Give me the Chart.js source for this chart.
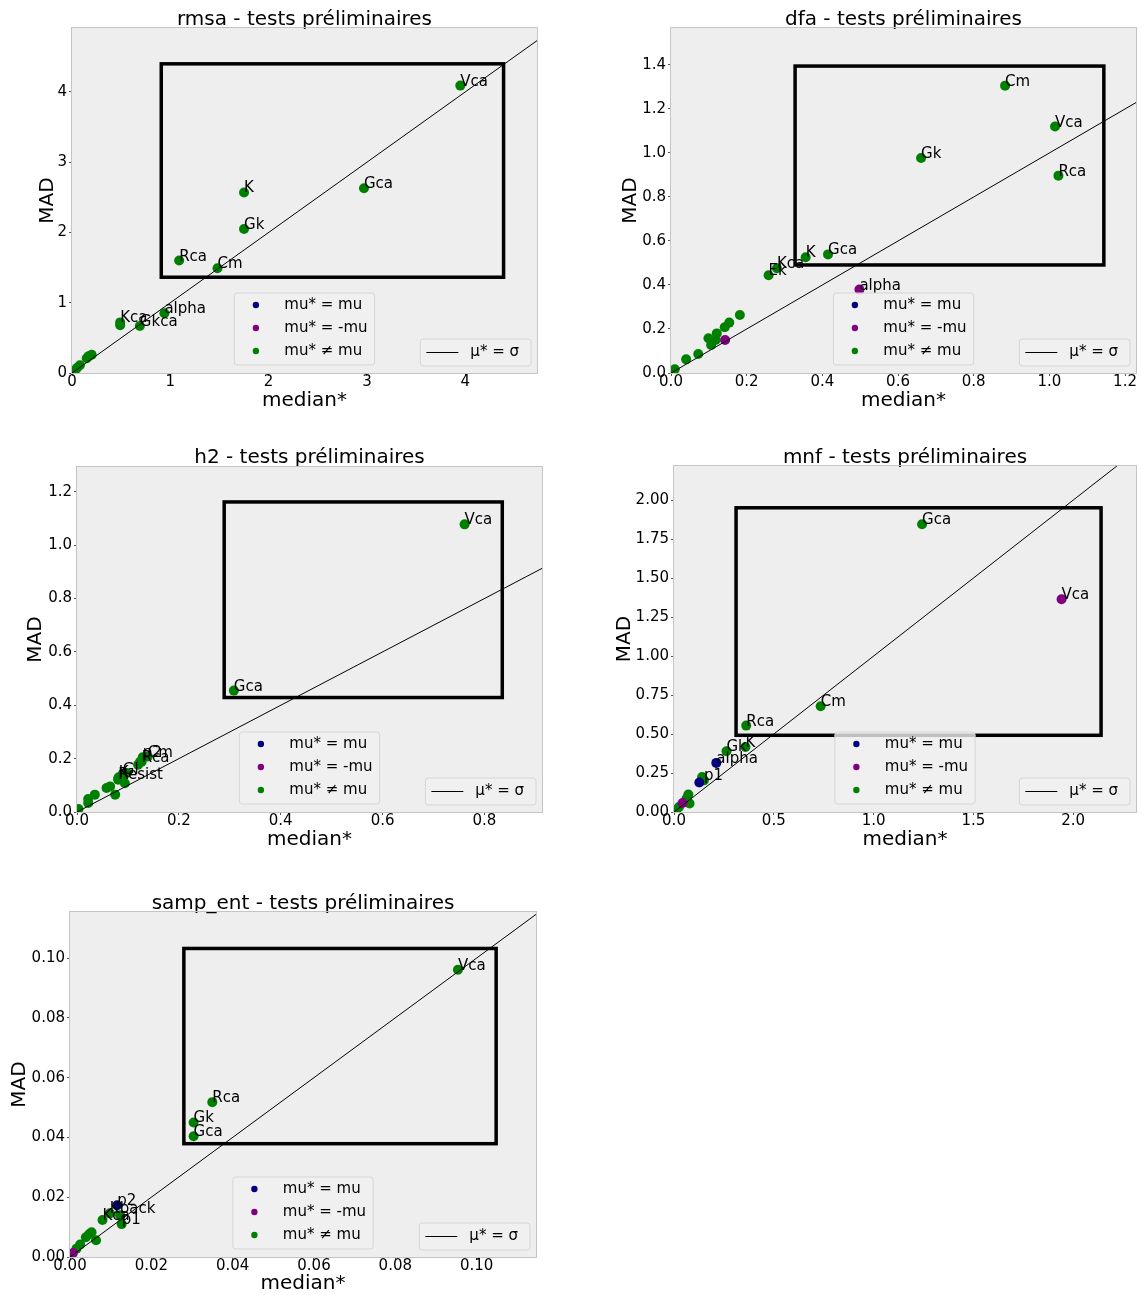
<!DOCTYPE html>
<html>
<head>
<meta charset="utf-8">
<script src="https://cdn.jsdelivr.net/npm/chart.js@4.4.1/dist/chart.umd.min.js"></script>
<style>
  body { margin: 0; background: #fff; }
  #page { position: relative; width: 1141px; height: 1295px; overflow: hidden; }
</style>
</head>
<body>
<div id="page"></div>
<script>
const FONT = 'DejaVu Sans';

// sign codes: 'eq' -> mu* = mu, 'opp' -> mu* = -mu, 'diff' -> mu* != mu

// rmsa
const rmsaNames  = ['Vca', 'Gca', 'K', 'Gk', 'Rca', 'Cm', 'alpha', 'Gkca', 'Kca', '', '', '', '', '', '', '', ''];
const rmsaMedian = [3.95, 2.97, 1.75, 1.75, 1.09, 1.48, 0.94, 0.69, 0.49, 0.49, 0.20, 0.17, 0.15, 0.08, 0.05, 0.03, 0.01];
const rmsaMad    = [4.09, 2.63, 2.57, 2.05, 1.60, 1.49, 0.85, 0.67, 0.72, 0.68, 0.26, 0.24, 0.21, 0.11, 0.07, 0.04, 0.01];
const rmsaSign   = ['diff', 'diff', 'diff', 'diff', 'diff', 'diff', 'diff', 'diff', 'diff', 'diff', 'diff', 'diff', 'diff', 'diff', 'diff', 'diff', 'diff'];
const rmsaBox    = [0.908, 1.363, 4.39, 4.40];
const rmsaXTicks = ['0', '1', '2', '3', '4'];
const rmsaYTicks = ['0', '1', '2', '3', '4'];
const rmsaXMax = 4.73, rmsaYMax = 4.91;

// dfa
const dfaNames  = ['Cm', 'Vca', 'Gk', 'Rca', 'Gca', 'K', 'Kca', 'Ek', 'alpha', '', '', '', '', '', '', '', '', '', '', ''];
const dfaMedian = [0.883, 1.015, 0.661, 1.024, 0.415, 0.356, 0.280, 0.258, 0.498, 0.143, 0.182, 0.154, 0.142, 0.121, 0.099, 0.106, 0.118, 0.072, 0.040, 0.010];
const dfaMad    = [1.306, 1.120, 0.977, 0.897, 0.539, 0.526, 0.476, 0.444, 0.379, 0.150, 0.264, 0.229, 0.208, 0.180, 0.158, 0.127, 0.150, 0.086, 0.062, 0.017];
const dfaSign   = ['diff', 'diff', 'diff', 'diff', 'diff', 'diff', 'diff', 'diff', 'opp', 'opp', 'diff', 'diff', 'diff', 'diff', 'diff', 'diff', 'diff', 'diff', 'diff', 'diff'];
const dfaBox    = [0.328, 0.491, 1.144, 1.395];
const dfaXTicks = ['0.0', '0.2', '0.4', '0.6', '0.8', '1.0', '1.2'];
const dfaYTicks = ['0.0', '0.2', '0.4', '0.6', '0.8', '1.0', '1.2', '1.4'];
const dfaXMax = 1.229, dfaYMax = 1.568;

// h2
const h2Names  = ['Vca', 'Gca', 'p2', 'Cm', 'Rca', 'Gl', 'K', 'Resist', '', '', '', '', '', '', '', '', '', '', '', '', ''];
const h2Median = [0.761, 0.308, 0.129, 0.139, 0.127, 0.090, 0.082, 0.081, 0.003, 0.022, 0.022, 0.035, 0.058, 0.065, 0.075, 0.081, 0.088, 0.094, 0.098, 0.120, 0.124];
const h2Mad    = [1.078, 0.455, 0.205, 0.208, 0.188, 0.143, 0.130, 0.125, 0.011, 0.049, 0.034, 0.065, 0.090, 0.096, 0.065, 0.121, 0.127, 0.108, 0.146, 0.177, 0.188];
const h2Sign   = h2Names.map(() => 'diff');
const h2Box    = [0.289, 0.429, 0.835, 1.162];
const h2XTicks = ['0.0', '0.2', '0.4', '0.6', '0.8'];
const h2YTicks = ['0.0', '0.2', '0.4', '0.6', '0.8', '1.0', '1.2'];
const h2XMax = 0.913, h2YMax = 1.293;

// mnf
const mnfNames  = ['Gca', 'Vca', 'Cm', 'Rca', 'K', 'Gk', 'alpha', '', '', 'p1', '', '', '', '', '', ''];
const mnfMedian = [1.243, 1.942, 0.735, 0.362, 0.358, 0.263, 0.212, 0.127, 0.141, 0.150, 0.072, 0.063, 0.078, 0.043, 0.025, 0.012];
const mnfMad    = [1.845, 1.365, 0.678, 0.554, 0.417, 0.390, 0.315, 0.189, 0.225, 0.203, 0.112, 0.086, 0.054, 0.058, 0.032, 0.015];
const mnfSign   = ['diff', 'opp', 'diff', 'diff', 'diff', 'diff', 'eq', 'eq', 'diff', 'diff', 'diff', 'diff', 'diff', 'opp', 'diff', 'diff'];
const mnfBox    = [0.311, 0.492, 2.14, 1.951];
const mnfXTicks = ['0.0', '0.5', '1.0', '1.5', '2.0'];
const mnfYTicks = ['0.00', '0.25', '0.50', '0.75', '1.00', '1.25', '1.50', '1.75', '2.00'];
const mnfXMax = 2.315, mnfYMax = 2.219;

// samp_ent
const sampNames  = ['Vca', 'Rca', 'Gk', 'Gca', 'p2', 'Kback', '', 'Kca', 'p1', '', '', '', '', '', '', ''];
const sampMedian = [0.0954, 0.0350, 0.0304, 0.0304, 0.0116, 0.0098, 0.0123, 0.0080, 0.0127, 0.0053, 0.0047, 0.0064, 0.0039, 0.0025, 0.0016, 0.0007];
const sampMad    = [0.0961, 0.0518, 0.0450, 0.0404, 0.0173, 0.0146, 0.0140, 0.0124, 0.0110, 0.0083, 0.0076, 0.0056, 0.0066, 0.0042, 0.0028, 0.0013];
const sampSign   = ['diff', 'diff', 'diff', 'diff', 'eq', 'diff', 'diff', 'diff', 'diff', 'diff', 'diff', 'diff', 'diff', 'diff', 'diff', 'opp'];
const sampBox    = [0.028, 0.0379, 0.1048, 0.1032];
const sampXTicks = ['0.00', '0.02', '0.04', '0.06', '0.08', '0.10'];
const sampYTicks = ['0.00', '0.02', '0.04', '0.06', '0.08', '0.10'];
const sampXMax = 0.1146, sampYMax = 0.1154;

const panels = [
  { title: 'rmsa - tests préliminaires', names: rmsaNames, median: rmsaMedian, mad: rmsaMad, sign: rmsaSign,
    box: rmsaBox, xTicks: rmsaXTicks, yTicks: rmsaYTicks, xMax: rmsaXMax, yMax: rmsaYMax,
    left: 0, top: 0, width: 560, height: 425, plot: [72, 28, 537, 373], titleY: 19.5, yLabelX: 47.5, xLabelY: 401 },
  { title: 'dfa - tests préliminaires', names: dfaNames, median: dfaMedian, mad: dfaMad, sign: dfaSign,
    box: dfaBox, xTicks: dfaXTicks, yTicks: dfaYTicks, xMax: dfaXMax, yMax: dfaYMax,
    left: 580, top: 0, width: 561, height: 425, plot: [671, 28, 1136, 373], titleY: 19.5, yLabelX: 630.5, xLabelY: 401 },
  { title: 'h2 - tests préliminaires', names: h2Names, median: h2Median, mad: h2Mad, sign: h2Sign,
    box: h2Box, xTicks: h2XTicks, yTicks: h2YTicks, xMax: h2XMax, yMax: h2YMax,
    left: 0, top: 430, width: 560, height: 432, plot: [77, 467, 542, 812], titleY: 458, yLabelX: 36, xLabelY: 840 },
  { title: 'mnf - tests préliminaires', names: mnfNames, median: mnfMedian, mad: mnfMad, sign: mnfSign,
    box: mnfBox, xTicks: mnfXTicks, yTicks: mnfYTicks, xMax: mnfXMax, yMax: mnfYMax,
    left: 580, top: 430, width: 561, height: 432, plot: [674, 466, 1137, 812], titleY: 458, yLabelX: 624.3, xLabelY: 840 },
  { title: 'samp_ent - tests préliminaires', names: sampNames, median: sampMedian, mad: sampMad, sign: sampSign,
    box: sampBox, xTicks: sampXTicks, yTicks: sampYTicks, xMax: sampXMax, yMax: sampYMax,
    left: 0, top: 870, width: 560, height: 425, plot: [70, 912, 536, 1257], titleY: 903.5, yLabelX: 19.7, xLabelY: 1284 }
];

Chart.defaults.font.family = FONT;
Chart.defaults.color = '#000';

function roundBox(ctx, x, y, w, h, r) {
  ctx.beginPath();
  ctx.moveTo(x + r, y);
  ctx.arcTo(x + w, y, x + w, y + h, r);
  ctx.arcTo(x + w, y + h, x, y + h, r);
  ctx.arcTo(x, y + h, x, y, r);
  ctx.arcTo(x, y, x + w, y, r);
  ctx.closePath();
  ctx.fillStyle = 'rgba(240,240,240,0.8)';
  ctx.fill();
  ctx.strokeStyle = '#d6d6d6';
  ctx.lineWidth = 1;
  ctx.stroke();
}

const decor = {
  id: 'decor',
  beforeDraw(chart) {
    const a = chart.chartArea, ctx = chart.ctx;
    ctx.save();
    ctx.fillStyle = '#eeeeee';
    ctx.fillRect(a.left, a.top, a.right - a.left, a.bottom - a.top);
    ctx.restore();
  },
  afterDatasetsDraw(chart) {
    const ctx = chart.ctx, a = chart.chartArea;
    const xs = chart.scales.x, ys = chart.scales.y;
    const box = chart.options.plugins.decor.box;
    ctx.save();

    // point names
    ctx.font = '15px "' + FONT + '"';
    ctx.fillStyle = '#000';
    ctx.textAlign = 'left';
    ctx.textBaseline = 'alphabetic';
    chart.data.datasets.forEach(ds => {
      if (ds.type !== 'scatter') return;
      ds.data.forEach(d => {
        if (d.name) ctx.fillText(d.name, xs.getPixelForValue(d.x), ys.getPixelForValue(d.y));
      });
    });

    // selection rectangle
    const x0 = xs.getPixelForValue(box[0]), y0 = ys.getPixelForValue(box[1]);
    const x1 = xs.getPixelForValue(box[2]), y1 = ys.getPixelForValue(box[3]);
    ctx.strokeStyle = '#000';
    ctx.lineWidth = 3.5;
    ctx.lineJoin = 'miter';
    ctx.strokeRect(x0, y1, x1 - x0, y0 - y1);

    // frame
    ctx.strokeStyle = '#c4c4c4';
    ctx.lineWidth = 1;
    ctx.strokeRect(Math.round(a.left) - 0.5, Math.round(a.top) - 0.5,
      Math.round(a.right - a.left) + 1, Math.round(a.bottom - a.top) + 1);

    // legend for the marker colours
    ctx.font = '15px "' + FONT + '"';
    ctx.textBaseline = 'middle';
    const entries = [['navy', 'mu* = mu'], ['purple', 'mu* = -mu'], ['green', 'mu* \u2260 mu']];
    const tw = Math.max(...entries.map(e => ctx.measureText(e[1]).width));
    const w = 50 + tw + 7, h = 72;
    const lx = (a.left + a.right) / 2 - w / 2, ly = a.bottom - 8 - h;
    roundBox(ctx, lx, ly, w, h, 3);
    entries.forEach((e, i) => {
      const cy = ly + 12 + 23 * i;
      ctx.fillStyle = e[0];
      ctx.beginPath();
      ctx.arc(lx + 21.5, cy, 3.2, 0, Math.PI * 2);
      ctx.fill();
      ctx.fillStyle = '#000';
      ctx.fillText(e[1], lx + 50, cy);
    });

    // legend for the diagonal
    const t2 = '\u03bc* = \u03c3';
    const w2 = 50 + ctx.measureText(t2).width + 12, h2 = 27;
    const rx = a.right - 6 - w2, ry = a.bottom - 7 - h2;
    roundBox(ctx, rx, ry, w2, h2, 3);
    ctx.strokeStyle = '#000';
    ctx.lineWidth = 1;
    ctx.beginPath();
    ctx.moveTo(rx + 6, ry + 13.5);
    ctx.lineTo(rx + 38, ry + 13.5);
    ctx.stroke();
    ctx.fillStyle = '#000';
    ctx.fillText(t2, rx + 50, ry + 13.5);

    ctx.restore();
  }
};

function axisTicks(labels) {
  return scale => { scale.ticks = labels.map(s => ({ value: parseFloat(s) })); };
}

function buildChart(p) {
  const canvas = document.createElement('canvas');
  canvas.width = p.width;
  canvas.height = p.height;
  canvas.style.cssText = `position:absolute;left:${p.left}px;top:${p.top}px;width:${p.width}px;height:${p.height}px`;
  document.getElementById('page').appendChild(canvas);

  const [L, T, R, B] = p.plot;
  const yW = L - p.left;
  const xH = p.top + p.height - B;
  const titleH = T - p.top;
  const titlePadTop = p.titleY - p.top - 10;
  const padRight = p.left + p.width - R;

  const pointsOf = key => p.median
    .map((x, i) => ({ x: x, y: p.mad[i], name: p.names[i], key: p.sign[i] }))
    .filter(d => d.key === key);
  const lim = Math.max(p.xMax, p.yMax) * 1.5;

  const scatter = (key, color, order) => ({
    type: 'scatter', data: pointsOf(key), order: order,
    backgroundColor: color, borderColor: color, borderWidth: 0,
    pointRadius: 5, pointHoverRadius: 5, clip: 0
  });

  new Chart(canvas, {
    data: {
      datasets: [
        { type: 'line', data: [{ x: 0, y: 0 }, { x: lim, y: lim }], order: 0,
          borderColor: '#000', borderWidth: 1, pointRadius: 0, clip: 0 },
        scatter('eq', 'navy', 1),
        scatter('opp', 'purple', 2),
        scatter('diff', 'green', 3)
      ]
    },
    options: {
      responsive: false,
      animation: false,
      events: [],
      layout: { padding: { left: 0, top: 0, right: padRight, bottom: 0 } },
      scales: {
        x: {
          type: 'linear', min: 0, max: p.xMax,
          afterBuildTicks: axisTicks(p.xTicks),
          ticks: { callback: (v, i) => p.xTicks[i], font: { size: 15, lineHeight: 1 }, color: '#000',
                   padding: -1, maxRotation: 0, autoSkip: false },
          grid: { drawOnChartArea: false, drawTicks: true, tickLength: 3, tickColor: '#555' },
          border: { display: false },
          title: { display: true, text: 'median*', color: '#000', font: { size: 20, lineHeight: 1 },
                   padding: { top: 0, bottom: p.top + p.height - p.xLabelY - 10 } },
          afterFit: s => { s.height = xH; s.paddingLeft = 0; s.paddingRight = 0; }
        },
        y: {
          type: 'linear', min: 0, max: p.yMax,
          afterBuildTicks: axisTicks(p.yTicks),
          ticks: { callback: (v, i) => p.yTicks[i], font: { size: 15, lineHeight: 1 }, color: '#000',
                   padding: 2, autoSkip: false },
          grid: { drawOnChartArea: false, drawTicks: true, tickLength: 3, tickColor: '#555' },
          border: { display: false },
          title: { display: true, text: 'MAD', color: '#000', font: { size: 20, lineHeight: 1 },
                   padding: { top: p.yLabelX - p.left - 10, bottom: 0 } },
          afterFit: s => { s.width = yW; s.paddingTop = 0; s.paddingBottom = 0; }
        }
      },
      plugins: {
        legend: { display: false },
        tooltip: { enabled: false },
        title: { display: true, text: p.title, color: '#000', fullSize: false,
                 font: { size: 20, weight: 'normal', lineHeight: 1 },
                 padding: { top: titlePadTop, bottom: titleH - 20 - titlePadTop } },
        decor: { box: p.box }
      }
    },
    plugins: [decor]
  });
}

panels.forEach(buildChart);
</script>
</body>
</html>
